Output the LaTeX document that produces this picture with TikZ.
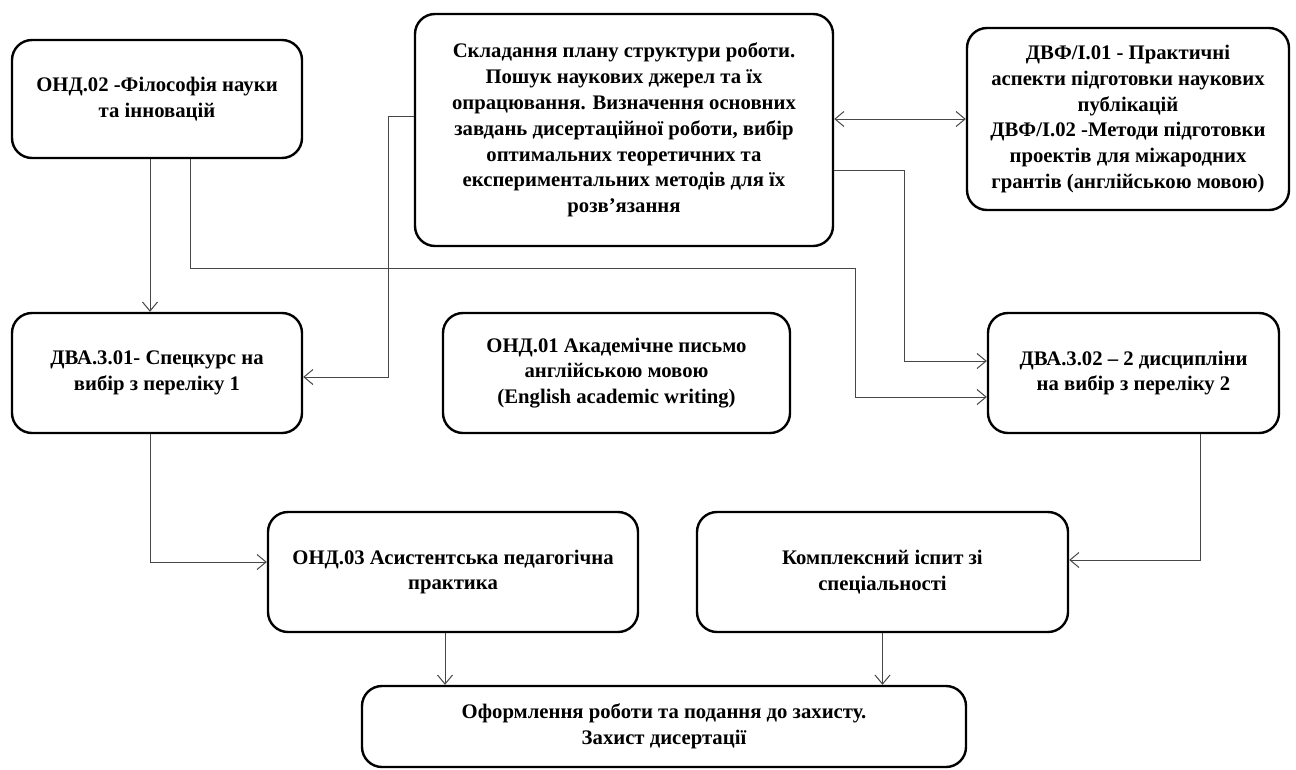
\documentclass[tikz,border=0pt]{standalone}
\usepackage{fontspec}
\setmainfont{Liberation Serif}
\usepackage{tikz}
\usetikzlibrary{positioning}
\usetikzlibrary{calc}
\usetikzlibrary{arrows.meta}
\tikzset{
bx/.style={
  rectangle,solid,
  rounded corners=20pt,
  inner sep=0pt,
  %text width=1mm,
  align=center,
  line width=2.4pt,
  draw=black,
  fill=white,
  font=\fontsize{20.7}{25.8}\selectfont\bfseries
  },
ln/.style={->,draw=black!72,line width=1pt}
}

\begin{document}
\begin{tikzpicture}[x=1pt,y=-1pt,>={Straight Barb[length=9pt,width=15pt]}]
            \useasboundingbox (0,0) rectangle (1296,769);
            \node[bx,minimum width=290pt,minimum height=118pt] (onda) at (157,99) {ОНД.02 -Філософія науки\\та інновацій};
            \node[bx,minimum width=418pt,minimum height=232pt] (plan) at (624,130) {Складання плану структури роботи.\\Пошук наукових джерел та їх\\опрацювання. Визначення основних\\завдань дисертаційної роботи, вибір\\оптимальних теоретичних та\\експериментальних методів для їх\\розв’язання};
            \node[bx,minimum width=322pt,minimum height=182pt] (dvf) at (1128,119) {ДВФ/І.01 - Практичні\\аспекти підготовки наукових\\публікацій\\ДВФ/І.02 -Методи підготовки\\проектів для міжародних\\грантів (англійською мовою)};
            \node[bx,minimum width=290pt,minimum height=120pt] (dva1) at (157,373) {ДВА.3.01- Спецкурс на\\вибір з переліку 1};
            \node[bx,minimum width=347pt,minimum height=120pt] (ondb) at (616.5,373) {ОНД.01 Академічне письмо\\англійською мовою\\(English academic writing)};
            \node[bx,minimum width=291pt,minimum height=120pt] (dva2) at (1133.5,373) {ДВА.3.02 – 2 дисципліни\\на вибір з переліку 2};
            \node[bx,minimum width=370pt,minimum height=120pt] (ondc) at (453,572) {ОНД.03 Асистентська педагогічна\\практика};
            \node[bx,minimum width=371pt,minimum height=120pt] (ksp) at (882.5,572) {Комплексний іспит зі\\спеціальності};
            \node[bx,minimum width=604pt,minimum height=81pt] (zah) at (664,726.5) {Оформлення роботи та подання до захисту.\\Захист дисертації};
            \coordinate (k1) at (855,268);
            \draw[ln] ([xshift=-7pt]onda.south) -- ([xshift=-7pt]dva1.north);
            \draw[ln] ([xshift=33pt]onda.south) |- (k1) |- ([yshift=-24pt]dva2.west);
            \draw[ln] ([yshift=14pt]plan.west) -- ++(-25,0) |- ([yshift=-4pt]dva1.east);
            \draw[ln] ([yshift=-40pt]plan.east) -- ++(70,0) |- ([yshift=12pt]dva2.west);
            \draw[ln,<->] (plan.east |- dvf.west) -- (dvf.west);
            \draw[ln] ([xshift=-7pt]dva1.south) |- ([yshift=10pt]ondc.west);
            \draw[ln] ([xshift=67pt]dva2.south) |- ([yshift=12pt]ksp.east);
            \draw[ln] ([xshift=-8pt]ondc.south) -- ([xshift=-8pt]ondc.south |- zah.north);
            \draw[ln] (ksp.south) -- (ksp.south |- zah.north);
        \end{tikzpicture}
\end{document}
